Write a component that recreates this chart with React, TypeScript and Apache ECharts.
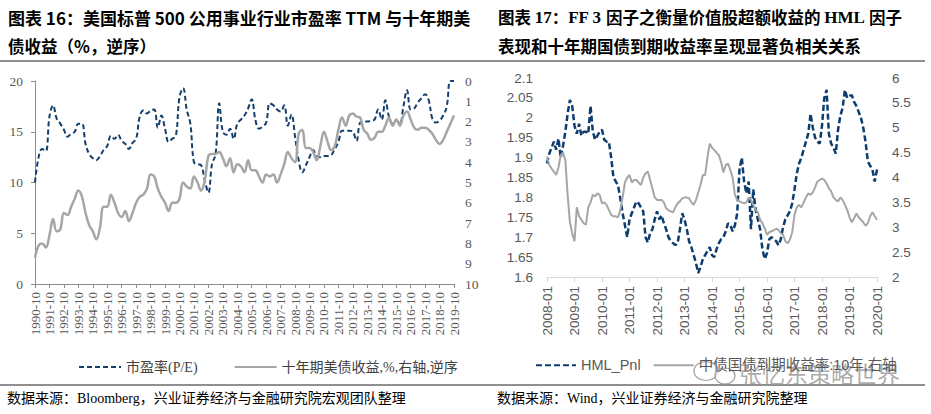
import React, { useEffect, useRef } from "react";
import * as echarts from "echarts";

// ---------- Data ----------
// Left chart: quarterly, 1990-10 .. 2019-10
const peUtilities = [
  10.0, 12.5, 13.3, 13.1, 16.5, 17.6, 16.3, 15.8, 15.2, 14.5,
  14.8, 15.0, 15.8, 15.8, 13.8, 12.8, 12.4, 12.2, 12.6, 13.2,
  13.6, 14.6, 14.3, 14.7, 14.1, 13.8, 13.3, 13.9, 14.3, 16.5,
  17.1, 16.8, 17.1, 17.2, 15.4, 16.6, 15.3, 14.0, 14.3, 14.6,
  18.4, 19.3, 17.2, 15.8, 12.0, 11.8, 11.7, 10.2, 9.0, 11.8,
  12.8, 17.8, 15.0, 14.7, 15.3, 14.3, 15.8, 16.2, 16.6, 17.3,
  18.2, 16.2, 15.3, 15.5, 15.9, 17.8, 17.6, 17.2, 17.0, 17.6,
  15.6, 16.7, 14.5, 12.2, 11.0, 11.7, 12.5, 13.2, 12.6, 12.5,
  12.6, 12.6, 12.7, 13.3, 14.0, 15.1, 15.1, 15.1, 15.0, 14.1,
  15.9, 16.0, 16.0, 16.1, 16.2, 17.2, 16.2, 18.1, 16.5, 15.8,
  16.1, 15.8, 17.5, 19.1, 17.2, 17.3, 17.9, 18.3, 18.7, 18.1,
  16.3, 15.9, 16.1, 16.6, 17.5, 20.0, 20.0,
];
const ust10y = [
  8.7, 8.1, 8.0, 8.2, 7.6, 6.8, 7.4, 7.3, 6.5, 6.6,
  6.2, 5.8, 5.4, 5.7, 6.5, 7.1, 7.4, 7.8, 7.2, 6.2,
  6.2, 5.6, 6.0, 6.5, 6.7, 6.4, 6.9, 6.5, 6.0, 5.7,
  5.6, 5.3, 4.6, 4.7, 5.3, 5.7, 6.0, 6.4, 6.0, 6.0,
  5.8, 5.0, 5.2, 5.3, 4.7, 5.0, 5.4, 4.9, 3.7, 3.6,
  3.6, 3.5, 3.8, 4.2, 3.8, 4.5, 4.1, 4.2, 4.5, 3.9,
  4.4, 4.4, 4.7, 5.0, 4.6, 4.7, 4.6, 5.0, 4.6, 4.1,
  3.5, 3.8, 4.0, 2.6, 2.4, 3.3, 3.3, 3.5, 3.9, 3.2,
  2.5, 3.0, 3.4, 3.2, 2.4, 1.8, 2.2, 1.7, 1.6, 1.75,
  1.8, 2.4, 2.6, 2.9, 2.8, 2.5, 2.5, 2.2, 1.8, 2.2,
  1.9, 2.2, 1.7, 1.5, 1.9, 2.3, 2.4, 2.3, 2.3, 2.4,
  2.6, 2.9, 3.1, 2.9, 2.5, 2.1, 1.7,
];
// Right chart: monthly, 2008-01 .. 2020-01
const hmlPnl = [
  1.885, 1.91, 1.925, 1.94, 1.92, 1.948, 1.9, 1.93, 1.965, 2.01,
  2.045, 2.03, 1.98, 1.96, 1.985, 1.955, 1.965, 1.965, 1.96, 2.03,
  1.965, 1.945, 1.955, 1.965, 1.97, 1.945, 1.94, 1.94, 1.9, 1.85,
  1.84, 1.83, 1.797, 1.76, 1.73, 1.7, 1.745, 1.76, 1.775, 1.79,
  1.785, 1.775, 1.765, 1.7, 1.687, 1.71, 1.72, 1.745, 1.765, 1.745,
  1.755, 1.735, 1.72, 1.7, 1.69, 1.685, 1.68, 1.685, 1.72, 1.76,
  1.745, 1.72, 1.69, 1.675, 1.655, 1.635, 1.61, 1.625, 1.645, 1.655,
  1.665, 1.675, 1.655, 1.65, 1.67, 1.685, 1.695, 1.7, 1.715, 1.735,
  1.73, 1.715, 1.73, 1.76, 1.87, 1.9, 1.84, 1.81, 1.84, 1.72,
  1.82, 1.77, 1.745, 1.72, 1.67, 1.645, 1.66, 1.695, 1.7, 1.695,
  1.69, 1.68, 1.695, 1.725, 1.745, 1.755, 1.765, 1.785, 1.82, 1.86,
  1.885, 1.9, 1.92, 1.94, 1.96, 2.01, 1.975, 1.95, 1.94, 1.935,
  1.98, 2.05, 2.07, 1.96, 1.935, 1.925, 1.91, 1.97, 2.005, 2.025,
  2.07, 2.05, 2.055, 2.057, 2.04, 2.03, 2.015, 2.0, 1.975, 1.94,
  1.89, 1.88, 1.87, 1.84, 1.87,
];
const cgb10y = [
  4.42, 4.25, 4.18, 4.12, 4.05, 4.2, 4.45, 4.5, 4.35, 3.65,
  3.1, 2.88, 2.72, 3.4, 3.22, 3.15, 3.08, 3.05, 3.4, 3.5,
  3.65, 3.62, 3.68, 3.65, 3.48, 3.5, 3.45, 3.35, 3.25, 3.22,
  3.22, 3.2, 3.35, 3.6, 3.9, 4.0, 4.05, 3.9, 3.95, 3.95,
  3.9, 3.85, 4.0, 4.08, 4.12, 3.95, 3.78, 3.6, 3.55, 3.55,
  3.55, 3.5, 3.38, 3.34, 3.32, 3.3, 3.4, 3.48, 3.52, 3.58,
  3.6, 3.6, 3.58, 3.5, 3.45, 3.55, 3.7, 3.85, 4.05, 4.05,
  4.4, 4.68, 4.6, 4.55, 4.5, 4.45, 4.3, 4.1, 4.25, 4.28,
  4.15, 4.0, 3.65, 3.55, 3.52, 3.5, 3.48, 3.5, 3.6, 3.55,
  3.45, 3.35, 3.3, 3.15, 3.08, 2.98, 2.85, 2.9, 2.92, 2.94,
  2.97, 2.95, 2.88, 2.85, 2.72, 2.68, 2.75, 2.9, 3.25, 3.4,
  3.45, 3.4, 3.5, 3.6, 3.68, 3.65, 3.7, 3.8, 3.92, 3.95,
  3.98, 3.95, 3.88, 3.78, 3.72, 3.6, 3.55, 3.52, 3.6, 3.55,
  3.45, 3.35, 3.2, 3.1, 3.18, 3.28, 3.2, 3.15, 3.1, 3.03,
  3.08, 3.22, 3.3, 3.22, 3.15,
];

const leftSeriesNames = ["市盈率(P/E)", "十年期美债收益,%,右轴,逆序"];
const rightSeriesNames = ["HML_Pnl", "中债国债到期收益率:10年,右轴"];
const watermarkText = "张忆东策略世界";

function buildDates(startYear: number, startMonth: number, stepMonths: number, count: number): string[] {
  const out: string[] = [];
  let y = startYear;
  let m = startMonth;
  for (let i = 0; i < count; i++) {
    out.push(`${y}-${m < 10 ? "0" + m : m}`);
    m += stepMonths;
    while (m > 12) {
      m -= 12;
      y += 1;
    }
  }
  return out;
}
const quarterCats = buildDates(1990, 10, 3, peUtilities.length);
const monthCats = buildDates(2008, 1, 1, hmlPnl.length);

const SERIF = '"Liberation Serif", "Times New Roman", "Noto Sans CJK SC", serif';
const SANS = '"Liberation Sans", Arial, "Noto Sans CJK SC", sans-serif';
const CJK = '"Noto Sans CJK SC", "Liberation Sans", sans-serif';
const CJK_SERIF = '"Liberation Serif", "Noto Sans CJK SC", serif';

const NAVY = "#143f6c";
const GREY = "#a6a6a6";
const LABEL = "#595959";

const hiddenSymbol = { color: "rgba(0,0,0,0)", borderWidth: 0, opacity: 0 };

export default function App() {
  const ref = useRef<HTMLDivElement | null>(null);

  useEffect(() => {
    if (!ref.current) return;
    const chart = echarts.init(ref.current, undefined, { renderer: "svg" });

    const option: any = {
      animation: false,
      backgroundColor: "#ffffff",
      grid: [
        { left: 35, top: 81, width: 419, height: 203 },
        { left: 547, top: 78, width: 330, height: 199 },
      ],
      xAxis: [
        {
          type: "category",
          gridIndex: 0,
          data: quarterCats,
          boundaryGap: false,
          axisLine: { lineStyle: { color: "#8c8c8c", width: 1 } },
          axisTick: { interval: 3, length: 4, lineStyle: { color: "#8c8c8c" } },
          axisLabel: { interval: 3, rotate: 90, color: LABEL, fontFamily: SERIF, fontSize: 13, margin: 8 },
          splitLine: { show: false },
        },
        {
          type: "category",
          gridIndex: 1,
          data: monthCats,
          boundaryGap: false,
          axisLine: { lineStyle: { color: "#d9d9d9", width: 1 } },
          axisTick: { interval: 11, length: 5, lineStyle: { color: "#d9d9d9" } },
          axisLabel: { interval: 11, rotate: 90, color: LABEL, fontFamily: SANS, fontSize: 13.5, margin: 9 },
          splitLine: { show: false },
        },
      ],
      yAxis: [
        {
          type: "value",
          gridIndex: 0,
          min: 0,
          max: 20,
          interval: 5,
          axisLine: { show: true, lineStyle: { color: "#8c8c8c" } },
          axisTick: { show: true, length: 4, lineStyle: { color: "#8c8c8c" } },
          splitLine: { show: false },
          axisLabel: { color: LABEL, fontFamily: SERIF, fontSize: 13.5, margin: 12 },
        },
        {
          type: "value",
          gridIndex: 0,
          position: "right",
          min: 0,
          max: 10,
          interval: 1,
          inverse: true,
          axisLine: { show: false },
          axisTick: { show: false },
          splitLine: { show: false },
          axisLabel: { color: LABEL, fontFamily: SERIF, fontSize: 13.5, margin: 11 },
        },
        {
          type: "value",
          gridIndex: 1,
          min: 1.6,
          max: 2.1,
          interval: 0.05,
          axisLine: { show: false },
          axisTick: { show: false },
          splitLine: { show: false },
          axisLabel: { color: LABEL, fontFamily: SANS, fontSize: 13.5, margin: 14 },
        },
        {
          type: "value",
          gridIndex: 1,
          position: "right",
          min: 2,
          max: 6,
          interval: 0.5,
          axisLine: { show: false },
          axisTick: { show: false },
          splitLine: { show: false },
          axisLabel: { color: LABEL, fontFamily: SANS, fontSize: 13.5, margin: 15 },
        },
      ],
      legend: [
        {
          data: leftSeriesNames,
          left: 73,
          top: 355,
          itemWidth: 42,
          itemHeight: 14,
          itemGap: 36,
          itemStyle: hiddenSymbol,
          textStyle: { fontFamily: CJK_SERIF, fontSize: 14, color: "#404040" },
        },
        {
          data: rightSeriesNames,
          left: 530,
          top: 353,
          itemWidth: 40,
          itemHeight: 14,
          itemGap: 12,
          itemStyle: hiddenSymbol,
          textStyle: { fontFamily: SANS, fontSize: 14.5, color: LABEL },
        },
      ],
      series: [
        {
          name: leftSeriesNames[0],
          type: "line",
          xAxisIndex: 0,
          yAxisIndex: 0,
          data: peUtilities,
          smooth: 0.4,
          symbol: "none",
          itemStyle: { color: NAVY },
          lineStyle: { color: NAVY, width: 2, type: [5, 3] },
        },
        {
          name: leftSeriesNames[1],
          type: "line",
          xAxisIndex: 0,
          yAxisIndex: 1,
          data: ust10y,
          smooth: 0.4,
          symbol: "none",
          itemStyle: { color: GREY },
          lineStyle: { color: GREY, width: 2.5 },
        },
        {
          name: rightSeriesNames[0],
          type: "line",
          xAxisIndex: 1,
          yAxisIndex: 2,
          data: hmlPnl,
          symbol: "none",
          itemStyle: { color: "#0c3d6e" },
          lineStyle: { color: "#0c3d6e", width: 2.5, type: [6, 3] },
        },
        {
          name: rightSeriesNames[1],
          type: "line",
          xAxisIndex: 1,
          yAxisIndex: 3,
          data: cgb10y,
          symbol: "none",
          itemStyle: { color: GREY },
          lineStyle: { color: GREY, width: 2 },
        },
      ],
      graphic: [
        {
          type: "text",
          x: 8,
          y: 17,
          style: {
            text: "图表 16：美国标普 500 公用事业行业市盈率 TTM 与十年期美",
            fontFamily: CJK,
            fontWeight: "bold",
            fontSize: 17,
            fill: "#000",
            verticalAlign: "middle",
          },
        },
        {
          type: "text",
          x: 8,
          y: 46,
          style: {
            text: "债收益（%，逆序）",
            fontFamily: CJK,
            fontWeight: "bold",
            fontSize: 16.5,
            fill: "#000",
            verticalAlign: "middle",
          },
        },
        {
          type: "text",
          x: 498,
          y: 17,
          style: {
            text: "{a|图表 }{s|17}{a|：}{s|FF 3 }{a|因子之衡量价值股超额收益的 }{s|HML }{a|因子}",
            verticalAlign: "middle",
            rich: {
              a: { fontFamily: CJK, fontWeight: "bold", fontSize: 16.5, fill: "#000" },
              s: { fontFamily: SERIF, fontWeight: "bold", fontSize: 17, fill: "#000" },
            },
          },
        },
        {
          type: "text",
          x: 498,
          y: 46,
          style: {
            text: "表现和十年期国债到期收益率呈现显著负相关关系",
            fontFamily: CJK,
            fontWeight: "bold",
            fontSize: 16.5,
            fill: "#000",
            verticalAlign: "middle",
          },
        },
        {
          type: "line",
          shape: { x1: 0, y1: 61, x2: 925, y2: 61 },
          style: { stroke: "#222", lineWidth: 1.2 },
        },
        {
          type: "line",
          shape: { x1: 0, y1: 385, x2: 925, y2: 385 },
          style: { stroke: "#222", lineWidth: 1.2 },
        },
        {
          type: "text",
          x: 7,
          y: 398,
          style: {
            text: "数据来源：Bloomberg，兴业证券经济与金融研究院宏观团队整理",
            fontFamily: CJK_SERIF,
            fontSize: 14,
            fill: "#000",
            verticalAlign: "middle",
          },
        },
        {
          type: "text",
          x: 497,
          y: 398,
          style: {
            text: "数据来源：Wind，兴业证券经济与金融研究院整理",
            fontFamily: CJK_SERIF,
            fontSize: 14,
            fill: "#000",
            verticalAlign: "middle",
          },
        },
        // watermark (WeChat-style bubbles + name)
        {
          type: "group",
          z: 100,
          children: [
            {
              type: "ellipse",
              shape: { cx: 706, cy: 371, rx: 12, ry: 9.5 },
              style: { fill: "rgba(255,255,255,0.75)", stroke: "rgba(140,140,140,0.85)", lineWidth: 1.2 },
            },
            {
              type: "ellipse",
              shape: { cx: 725, cy: 376, rx: 10, ry: 8 },
              style: { fill: "rgba(255,255,255,0.75)", stroke: "rgba(140,140,140,0.85)", lineWidth: 1.2 },
            },
            {
              type: "text",
              x: 739,
              y: 373,
              style: {
                text: watermarkText,
                fontFamily: CJK,
                fontSize: 23,
                fill: "rgba(150,150,150,0.8)",
                verticalAlign: "middle",
              },
            },
          ],
        },
      ],
    };

    chart.setOption(option);
    return () => {
      chart.dispose();
    };
  }, []);

  return (
    <div
      ref={ref}
      style={{ position: "fixed", left: 0, top: 0, width: 931, height: 414, background: "#fff" }}
    />
  );
}
